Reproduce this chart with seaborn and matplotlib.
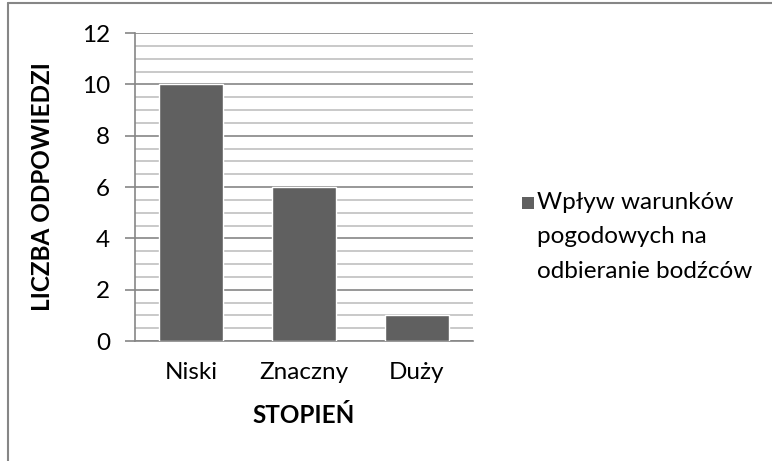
import matplotlib
matplotlib.use("Agg")
import matplotlib.pyplot as plt
import seaborn as sns
import pandas as pd
from matplotlib.patches import Rectangle
from matplotlib.lines import Line2D

# Data
categories = ["Niski", "Znaczny", "Duży"]
values = [10, 6, 1]
series_name = "Wpływ warunków\npogodowych na\nodbieranie bodźców"
y_ticks = [0, 2, 4, 6, 8, 10, 12]
x_title = "STOPIEŃ"
y_title = "LICZBA ODPOWIEDZI"

sns.set_theme(style="white")
plt.rcParams["font.family"] = ["Lato", "DejaVu Sans"]

df = pd.DataFrame({"stopien": categories, "liczba": values})

fig = plt.figure(figsize=(7.72, 4.61), dpi=100)
ax = fig.add_axes([0.1749, 0.2603, 0.6127 - 0.1749, 0.9284 - 0.2603])

bar_color = "#606060"
grid_major = "#868686"
grid_minor = "#c0c0c0"
fs = 17.5

sns.barplot(data=df, x="stopien", y="liczba", color=bar_color, saturation=1,
            width=0.57, ax=ax, zorder=3)

ax.set_ylim(0, 12)
ax.set_xlim(-0.5, 2.5)
ax.set_yticks(y_ticks)
ax.set_yticks([v / 2 for v in range(0, 25)], minor=True)
ax.grid(axis="y", which="minor", color=grid_minor, linewidth=1.2, zorder=0)
ax.grid(axis="y", which="major", color=grid_major, linewidth=1.2, zorder=0)
ax.set_axisbelow(True)

for side in ["top", "right"]:
    ax.spines[side].set_visible(False)
for side in ["left", "bottom"]:
    ax.spines[side].set_color(grid_major)
    ax.spines[side].set_linewidth(1.2)

ax.tick_params(axis="y", which="major", direction="out", length=7, width=1.2,
               color=grid_major, labelsize=fs, pad=11, left=True)
ax.tick_params(axis="y", which="minor", length=0)
ax.tick_params(axis="x", length=0, labelsize=fs, pad=15)
for lbl in ax.get_xticklabels() + ax.get_yticklabels():
    lbl.set_color("black")

ax.set_xlabel(x_title, fontsize=fs, fontweight="bold", color="black", labelpad=15)
ax.set_ylabel(y_title, fontsize=fs, fontweight="bold", color="black", labelpad=20)

# Legend drawn as a swatch and a wrapped label
fig.patches.append(Rectangle((522 / 772, 1 - 209 / 461), 12 / 772, 12 / 461,
                             transform=fig.transFigure, facecolor=bar_color,
                             edgecolor="none"))
fig.text(537 / 772, 1 - 192 / 461, series_name, fontsize=fs, color="black",
         ha="left", va="top", linespacing=1.78)

# Chart frame
fig.add_artist(Line2D([8 / 772, 8 / 772], [0, 1 - 3 / 461], transform=fig.transFigure,
                      color="#868686", linewidth=1.5))
fig.add_artist(Line2D([8 / 772, 1], [1 - 3 / 461, 1 - 3 / 461], transform=fig.transFigure,
                      color="#868686", linewidth=1.5))

fig.savefig("out.png", dpi=100)
